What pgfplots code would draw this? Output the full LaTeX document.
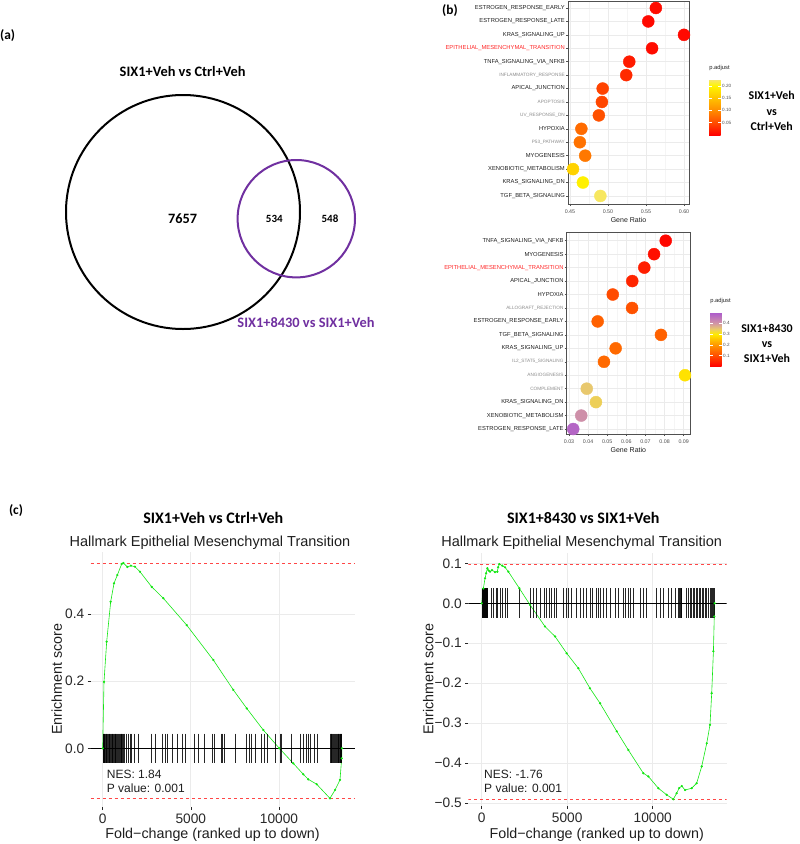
\documentclass[border=0pt]{standalone}
\usepackage{pgfplots}
\pgfplotsset{compat=1.18}
\usepackage{fontspec}
\setmainfont{Liberation Sans}
\newfontfamily\calib{Carlito}
\newcommand{\fs}[1]{\fontsize{#1bp}{#1bp}\selectfont}

\definecolor{venpurple}{RGB}{112,48,160}
\definecolor{gridmaj}{RGB}{235,235,235}
\definecolor{gridmin}{RGB}{245,245,245}
\definecolor{border}{RGB}{80,80,80}
\definecolor{ticktext}{RGB}{77,77,77}
\definecolor{labblack}{RGB}{30,30,30}
\definecolor{labgray}{RGB}{140,140,140}
\definecolor{emtred}{RGB}{255,40,40}
\definecolor{gseagreen}{RGB}{20,230,20}
\definecolor{reddash}{RGB}{255,70,70}
\definecolor{darktext}{RGB}{40,40,40}

\newcommand{\G}[1]{{\fs{4.7}\textcolor{labgray}{#1}}}
\newcommand{\R}[1]{\textcolor{emtred}{#1}}

\pgfplotsset{
  colormap={topmap}{rgb255(0pt)=(255,0,0) rgb255(50pt)=(255,75,0) rgb255(100pt)=(255,140,0)
    rgb255(150pt)=(255,195,0) rgb255(200pt)=(255,245,0) rgb255(227.5pt)=(245,228,120)},
  colormap={botmap}{rgb255(0pt)=(255,0,0) rgb255(100pt)=(255,75,0) rgb255(200pt)=(255,150,0)
    rgb255(300pt)=(255,235,0) rgb255(350pt)=(232,200,110) rgb255(400pt)=(210,150,165)
    rgb255(500pt)=(172,90,205)},
  dotplot/.style={
    anchor=south west, scale only axis, y dir=reverse,
    ytick={1,...,15}, scaled ticks=false,
    xmajorgrids, ymajorgrids, xminorgrids,
    major grid style={gridmaj, line width=0.6bp},
    minor grid style={gridmin, line width=0.4bp},
    axis line style={draw=border, line width=0.7bp},
    tick pos=left, tick align=outside, major tick length=2bp, minor tick length=0pt,
    tick style={draw=border, line width=0.5bp},
    xticklabel style={font=\fs{5.3}, text=ticktext},
    yticklabel style={font=\fs{5.8}, text=labblack, inner sep=1bp},
    xlabel={Gene Ratio}, xlabel style={font=\fs{7}, text=labblack, inner sep=1bp},
    colorbar,
  },
  cbar/.style={
    anchor=north west, scale only axis, width=11.3bp,
    yticklabel style={font=\fs{4.6}, text=ticktext, inner sep=1.5bp},
    major tick length=2.5bp, tick style={draw=white, line width=0.5bp},
    axis line style={draw=none},
    title={p.adjust}, title style={font=\fs{5.8}, text=labblack, at={(0,1)}, anchor=south west, inner sep=0pt, yshift=2.5bp},
  },
  dots/.style={scatter, only marks, mark=*, mark size=6bp, scatter src=explicit,
    scatter/use mapped color={draw=mapped color, fill=mapped color}},
  gsea/.style={
    anchor=south west, scale only axis, scaled ticks=false,
    xtick={0,5000,10000}, xticklabels={0,5000,10000},
    xmajorgrids, ymajorgrids, major grid style={gridmaj, line width=0.7bp},
    axis line style={draw=none}, tick pos=left, tick align=outside,
    major tick length=3bp, tick style={draw=darktext, line width=0.6bp},
    ticklabel style={font=\fs{13.7}, text=darktext},
  },
  hits/.style={only marks, mark=|, mark options={line width=0.6bp, draw=black, opacity=0.85}},
  escurve/.style={gseagreen, line width=0.6bp, mark=*, mark size=0.8bp, mark options={fill=gseagreen, draw=gseagreen}},
}

\begin{document}
\begin{tikzpicture}
\useasboundingbox (0,0) rectangle (800bp,-844bp);

% ---------- (a) Venn
\node[font=\calib\bfseries\fs{13.4}, anchor=west, inner sep=0pt] at (0bp,-36bp) {(a)};
\begin{axis}[at={(0bp,-400bp)}, anchor=south west, scale only axis, width=470bp, height=380bp,
  xmin=0, xmax=470, ymin=-400, ymax=-20, hide axis, clip=false]
  \draw[black, line width=2bp] (axis cs:183,-212) circle[radius=117];
  \draw[venpurple, line width=2bp] (axis cs:296.3,-218.7) circle[radius=58.7];
  \node[font=\calib\bfseries\fs{14.4}] at (axis cs:182.7,-71.7) {SIX1+Veh vs Ctrl+Veh};
  \node[font=\calib\bfseries\fs{14.3}] at (axis cs:182.7,-219) {7657};
  \node[font=\calib\bfseries\fs{11}] at (axis cs:274.3,-219) {534};
  \node[font=\calib\bfseries\fs{11}] at (axis cs:330,-219) {548};
  \node[font=\calib\bfseries\fs{14.4}, text=venpurple] at (axis cs:306,-322) {SIX1+8430 vs SIX1+Veh};
\end{axis}

% ---------- (b) dot plots
\node[font=\calib\bfseries\fs{13.4}] at (450bp,-11bp) {(b)};
\begin{axis}[dotplot, at={(568bp,-204bp)}, width=121bp, height=203bp,
  xmin=0.4474, xmax=0.6066, ymin=0.479, ymax=15.6,
  xtick={0.45,0.5,0.55,0.6}, xticklabels={0.45,0.50,0.55,0.60},
  minor xtick={0.475,0.525,0.575},
  yticklabels={ESTROGEN\_RESPONSE\_EARLY, ESTROGEN\_RESPONSE\_LATE, KRAS\_SIGNALING\_UP,
    \R{EPITHELIAL\_MESENCHYMAL\_TRANSITION}, TNFA\_SIGNALING\_VIA\_NFKB, \G{INFLAMMATORY\_RESPONSE},
    APICAL\_JUNCTION, \G{APOPTOSIS}, \G{UV\_RESPONSE\_DN}, HYPOXIA, \G{P53\_PATHWAY}, MYOGENESIS,
    XENOBIOTIC\_METABOLISM, KRAS\_SIGNALING\_DN, TGF\_BETA\_SIGNALING},
  colormap name=topmap, point meta min=0, point meta max=0.2275,
  colorbar style={cbar, at={(parent axis.north east)}, xshift=11.7bp, yshift=-78bp, height=56bp,
    ytick={0.05,0.10,0.15,0.20}, yticklabels={0.05,0.10,0.15,0.20}},
]
\addplot[dots] table[x=r, y=row, meta=p] {
r     row p
0.563 1  0.008
0.553 2  0.006
0.600 3  0.006
0.558 4  0.008
0.528 5  0.018
0.524 6  0.028
0.493 7  0.045
0.492 8  0.047
0.488 9  0.055
0.465 10 0.075
0.463 11 0.080
0.470 12 0.085
0.454 13 0.165
0.467 14 0.195
0.490 15 0.222
};
\end{axis}
\node[font=\calib\bfseries\fontsize{11.9bp}{15.8bp}\selectfont, align=center] at (771.7bp,-111bp) {SIX1+Veh\\vs\\Ctrl+Veh};

\begin{axis}[dotplot, at={(566.7bp,-434bp)}, width=123.3bp, height=201.3bp,
  xmin=0.0288, xmax=0.0933, ymin=0.405, ymax=15.37,
  xtick={0.03,0.04,0.05,0.06,0.07,0.08,0.09}, xticklabels={0.03,0.04,0.05,0.06,0.07,0.08,0.09},
  minor xtick={0.035,0.045,0.055,0.065,0.075,0.085},
  yticklabels={TNFA\_SIGNALING\_VIA\_NFKB, MYOGENESIS, \R{EPITHELIAL\_MESENCHYMAL\_TRANSITION},
    APICAL\_JUNCTION, HYPOXIA, \G{ALLOGRAFT\_REJECTION}, ESTROGEN\_RESPONSE\_EARLY,
    TGF\_BETA\_SIGNALING, KRAS\_SIGNALING\_UP, \G{IL2\_STAT5\_SIGNALING}, \G{ANGIOGENESIS},
    \G{COMPLEMENT}, KRAS\_SIGNALING\_DN, XENOBIOTIC\_METABOLISM, ESTROGEN\_RESPONSE\_LATE},
  colormap name=botmap, point meta min=0, point meta max=0.5,
  colorbar style={cbar, at={(parent axis.north east)}, xshift=11.7bp, yshift=-79.8bp, height=54bp,
    ytick={0.1,0.2,0.3,0.4}, yticklabels={0.1,0.2,0.3,0.4}},
]
\addplot[dots] table[x=r, y=row, meta=p] {
r      row p
0.0806 1  0.01
0.0745 2  0.02
0.0694 3  0.04
0.0631 4  0.05
0.0529 5  0.10
0.0630 6  0.11
0.0450 7  0.13
0.0781 8  0.13
0.0544 9  0.14
0.0483 10 0.14
0.0907 11 0.29
0.0393 12 0.35
0.0441 13 0.34
0.0364 14 0.41
0.0322 15 0.48
};
\end{axis}
\node[font=\calib\bfseries\fontsize{11.9bp}{15bp}\selectfont, align=center] at (767bp,-343bp) {SIX1+8430\\vs\\SIX1+Veh};

% ---------- (c) GSEA plots
\node[font=\calib\bfseries\fs{13.4}] at (16bp,-511bp) {(c)};

\begin{axis}[gsea, at={(90.7bp,-807bp)}, width=264.3bp, height=255bp,
  xmin=-680, xmax=14311, ymin=-0.1748, ymax=0.5847,
  ytick={0,0.2,0.4}, yticklabels={0.0,0.2,0.4}]
\addplot[reddash, dashed, line width=0.8bp] coordinates {(-680,0.552) (14311,0.552)};
\addplot[reddash, dashed, line width=0.8bp] coordinates {(-680,-0.149) (14311,-0.149)};
\addplot[hits, mark size=14.7bp] table {
x y
10 0
40 0
80 0
110 0
150 0
190 0
230 0
270 0
310 0
350 0
400 0
440 0
480 0
520 0
560 0
600 0
650 0
700 0
740 0
790 0
840 0
880 0
930 0
980 0
1030 0
1080 0
1130 0
1168 0
1225 0
1330 0
1430 0
1540 0
1645 0
1775 0
2020 0
2740 0
2965 0
3403 0
3534 0
3687 0
3948 0
4254 0
4515 0
4708 0
5196 0
5422 0
5763 0
6217 0
6330 0
6750 0
6806 0
6880 0
7544 0
8168 0
8315 0
8450 0
8639 0
9018 0
9166 0
9359 0
9773 0
10057 0
10153 0
10720 0
11191 0
11378 0
11531 0
11662 0
11798 0
12002 0
12172 0
12890 0
12940 0
12990 0
13040 0
13090 0
13140 0
13190 0
13240 0
13290 0
13340 0
13380 0
13420 0
13460 0
13500 0
13530 0
13556 0
};
\addplot[black, line width=0.6bp] coordinates {(-680,0) (14311,0)};
\addplot[escurve] table {
x y
0 0
74 0.198
227 0.3175
454 0.4366
643 0.4914
830 0.516
1077 0.549
1170 0.552
1400 0.540
1600 0.544
1830 0.541
2115 0.526
2780 0.481
3440 0.447
4765 0.367
6275 0.263
7410 0.174
8170 0.119
9110 0.0545
10020 0
10810 -0.0447
11380 -0.0774
11660 -0.0923
12140 -0.107
12890 -0.149
13180 -0.124
13460 -0.094
13555 -0.030
13570 0
};
\end{axis}
\node[font=\calib\bfseries\fs{16}] at (213.3bp,-518bp) {SIX1+Veh vs Ctrl+Veh};
\node[font=\fs{14.5}, text=labblack] at (210bp,-543bp) {Hallmark Epithelial Mesenchymal Transition};
\node[font=\fs{14.3}, text=labblack] at (212.5bp,-835bp) {Fold−change (ranked up to down)};
\node[font=\fs{14.3}, text=labblack, rotate=90] at (56.7bp,-679bp) {Enrichment score};
\node[font=\fs{12}, text=labblack, anchor=west, inner sep=0pt] at (106.7bp,-774.3bp) {NES: 1.84};
\node[font=\fs{12}, text=labblack, anchor=west, inner sep=0pt] at (106.7bp,-788.3bp) {P value: 0.001};

\begin{axis}[gsea, at={(468.3bp,-806bp)}, width=258.4bp, height=252.7bp,
  xmin=-784, xmax=14327, ymin=-0.507, ymax=0.125,
  ytick={-0.5,-0.4,-0.3,-0.2,-0.1,0,0.1}, yticklabels={−0.5,−0.4,−0.3,−0.2,−0.1,0.0,0.1}]
\addplot[reddash, dashed, line width=0.8bp] coordinates {(-784,0.098) (14327,0.098)};
\addplot[reddash, dashed, line width=0.8bp] coordinates {(-784,-0.49) (14327,-0.49)};
\addplot[hits, mark size=15bp] table {
x y
10 0
40 0
70 0
100 0
130 0
160 0
190 0
220 0
250 0
280 0
310 0
340 0
544 0
678 0
836 0
936 0
1070 0
1205 0
1363 0
1480 0
2200 0
2825 0
3018 0
3216 0
3409 0
3643 0
3801 0
3936 0
4094 0
4246 0
4386 0
4772 0
4971 0
5064 0
5263 0
5556 0
5749 0
5942 0
6140 0
6333 0
6467 0
6725 0
6819 0
6959 0
7111 0
7310 0
7503 0
7795 0
7988 0
8281 0
8380 0
8573 0
8673 0
8866 0
9258 0
9450 0
9649 0
10234 0
10427 0
10620 0
10912 0
11111 0
11304 0
11497 0
11550 0
11600 0
11650 0
11696 0
11990 0
12080 0
12170 0
12260 0
12350 0
12440 0
12530 0
12620 0
12710 0
12800 0
12890 0
12980 0
13070 0
13160 0
13250 0
13340 0
13450 0
13500 0
13550 0
13600 0
};
\addplot[black, line width=0.6bp] coordinates {(-784,0) (14327,0)};
\addplot[escurve] table {
x y
0 0
96 0.037
195 0.0625
260 0.075
330 0.0875
400 0.082
485 0.079
600 0.083
780 0.078
915 0.079
960 0.090
1030 0.098
1200 0.094
1365 0.090
1560 0.079
2200 0.0375
2825 -0.004
3700 -0.058
4290 -0.083
4970 -0.125
5650 -0.1625
6330 -0.2125
6920 -0.25
7895 -0.32
8575 -0.367
9450 -0.425
9745 -0.433
10330 -0.4625
10815 -0.479
11205 -0.49
11400 -0.475
11550 -0.462
11700 -0.457
11890 -0.467
12280 -0.4625
12570 -0.45
12865 -0.408
13160 -0.35
13350 -0.304
13450 -0.225
13550 -0.12
13600 -0.033
13620 0
};
\end{axis}
\node[font=\calib\bfseries\fs{16}] at (583.3bp,-518bp) {SIX1+8430 vs SIX1+Veh};
\node[font=\fs{14.5}, text=labblack] at (581.7bp,-543bp) {Hallmark Epithelial Mesenchymal Transition};
\node[font=\fs{14.3}, text=labblack] at (596.7bp,-835bp) {Fold−change (ranked up to down)};
\node[font=\fs{14.3}, text=labblack, rotate=90] at (428.3bp,-679bp) {Enrichment score};
\node[font=\fs{12}, text=labblack, anchor=west, inner sep=0pt] at (484bp,-774.3bp) {NES: -1.76};
\node[font=\fs{12}, text=labblack, anchor=west, inner sep=0pt] at (484bp,-788.3bp) {P value: 0.001};

\end{tikzpicture}
\end{document}
